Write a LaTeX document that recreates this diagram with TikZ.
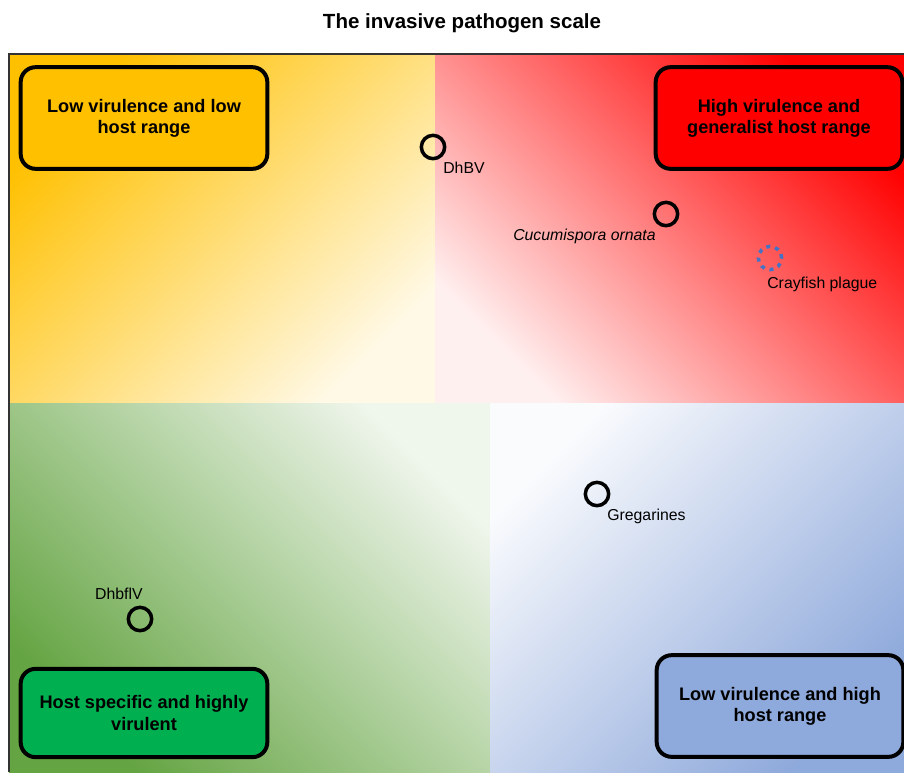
\documentclass[tikz,border=0pt]{standalone}
\usepackage{fontspec}
\setmainfont{Liberation Sans}
\usepackage{xcolor}
\usepackage{tikz}
\usetikzlibrary{positioning,shadings}
\definecolor{gold}{RGB}{255,192,0}
\definecolor{hot}{RGB}{255,0,0}
\definecolor{leaf}{RGB}{100,164,66}
\definecolor{boxgreen}{RGB}{0,176,80}
\definecolor{sky}{RGB}{142,169,219}
\definecolor{dotblue}{RGB}{68,114,196}

\begin{document}
\begin{tikzpicture}[x=0.03cm,y=-0.03cm]
\tikzset{box/.style={draw=black,line width=3.4pt,rounded corners=0.45cm,minimum width=7.4cm,minimum height=3.05cm,align=center,font=\fontsize{15.5}{18}\selectfont\bfseries},
  spot/.style={draw=black,line width=3pt,circle,minimum size=0.7cm,inner sep=0pt},
  tag/.style={font=\fontsize{13.5}{16}\selectfont,inner sep=0.5pt}}
\useasboundingbox (0,0) rectangle (904,772);
% four shaded quadrants
\shade[top color=gold,middle color=gold!72!white,bottom color=gold!10!white,shading angle=45] (9,54) rectangle (435,403);
\shade[top color=hot,middle color=hot!60!white,bottom color=hot!6!white,shading angle=-45] (435,54) rectangle (904,403);
\shade[top color=leaf,middle color=leaf!62!white,bottom color=leaf!10!white,shading angle=135] (9,403) rectangle (490,772);
\shade[top color=sky,middle color=sky!45!white,bottom color=sky!5!white,shading angle=-135] (490,403) rectangle (904,772);
\draw[line width=2pt,black!80] (904,54) -- (9,54) -- (9,772);
\node[font=\fontsize{17.5}{20}\selectfont\bfseries] (title) at (462,23) {The invasive pathogen scale};
% corner boxes
\node[box,fill=gold] (lowlow) at (144,118) {Low virulence and low\\host range};
\node[box,fill=hot] (highgen) at (779,118) {High virulence and\\generalist host range};
\node[box,fill=boxgreen,minimum height=2.65cm] (hostspec) at (144,713) {Host specific and highly\\virulent};
\node[box,fill=sky] (lowhigh) at (780,706) {Low virulence and high\\host range};
% pathogens
\node[spot] (dhbv) at (433,147) {};
\node[tag,anchor=north west,yshift=-4pt] (dhbvl) at (dhbv.south east) {DhBV};
\node[spot] (cucu) at (666,214) {};
\node[tag,anchor=north east,yshift=-4pt,font=\fontsize{13.5}{16}\selectfont\itshape] (cucul) at (cucu.south west) {Cucumispora ornata};
\node[spot,draw=dotblue,dash pattern=on 3.4pt off 4.3pt] (cray) at (770,258) {};
\node[tag,anchor=north west,xshift=-3pt,yshift=-4pt] (crayl) at (cray.south) {Crayfish plague};
\node[spot] (greg) at (597,494) {};
\node[tag,anchor=north west,yshift=-4pt] (gregl) at (greg.south east) {Gregarines};
\node[spot] (dhbflv) at (140,619) {};
\node[tag,anchor=south east,xshift=3pt,yshift=4pt] (dhbflvl) at (dhbflv.north) {DhbflV};
\end{tikzpicture}
\end{document}
